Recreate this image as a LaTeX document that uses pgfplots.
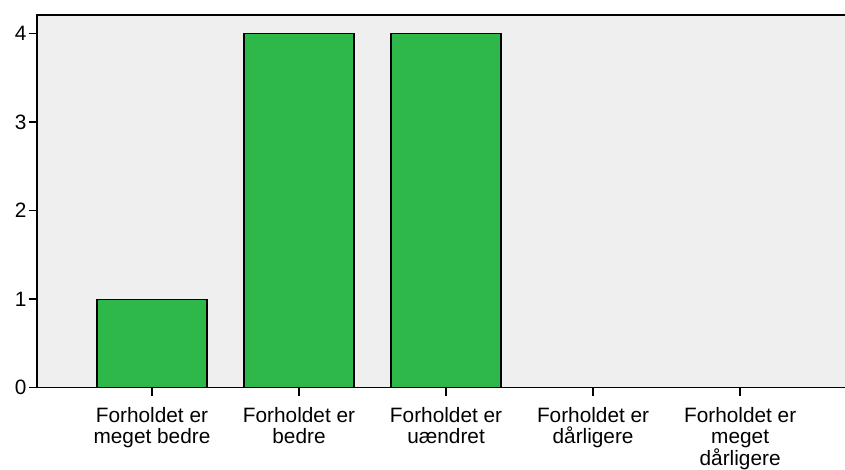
\documentclass[border=0pt]{standalone}
\usepackage{fontspec}
\setmainfont{Liberation Sans}
\usepackage{pgfplots}
\pgfplotsset{compat=1.18}
\definecolor{barfill}{RGB}{46,184,74}
\definecolor{plotbg}{RGB}{239,239,239}
\begin{document}
\begin{tikzpicture}
\begin{axis}[
  name=ax,
  scale only axis,
  clip=false,
  width=809pt, height=372.7pt,
  xmin=-0.782, xmax=4.72,
  ymin=0, ymax=4.21,
  axis line style={line width=1.6pt},
  axis background/.style={fill=plotbg},
  ytick={0,1,2,3,4},
  xtick={0,1,2,3,4},
  xticklabels={{Forholdet er\\meget bedre},{Forholdet er\\bedre},{Forholdet er\\uændret},{Forholdet er\\dårligere},{Forholdet er\\meget\\dårligere}},
  xtick pos=left, ytick pos=left,
  tick align=outside,
  tickwidth=8pt,
  every tick/.style={black, line width=1.6pt},
  ticklabel style={font=\fontsize{20.8}{21}\selectfont},
  xticklabel style={align=center, yshift=-8pt},
  yticklabel style={xshift=1pt},
  /pgf/number format/assume math mode=true,
]
\addplot[ybar, bar width=110pt, fill=barfill, draw=black, line width=1.2pt]
  coordinates {(0,1) (1,4) (2,4) (3,0) (4,0)};
\pgfplotsinvokeforeach{0,1,2,3,4}{
  \draw[line width=1.6pt, black] (axis cs:#1,0) -- ++(0pt,-8pt);
}
\end{axis}
\foreach \v in {0,1,2,3,4}
  \draw[line width=1.6pt, black] ([yshift=\v*88.527pt]ax.south west) -- ++(-8pt,0pt);
\pgfresetboundingbox
\path[use as bounding box] ([shift={(-37pt,-82pt)}]ax.south west) rectangle ([shift={(-1pt,15pt)}]ax.north east);
\end{tikzpicture}
\end{document}
